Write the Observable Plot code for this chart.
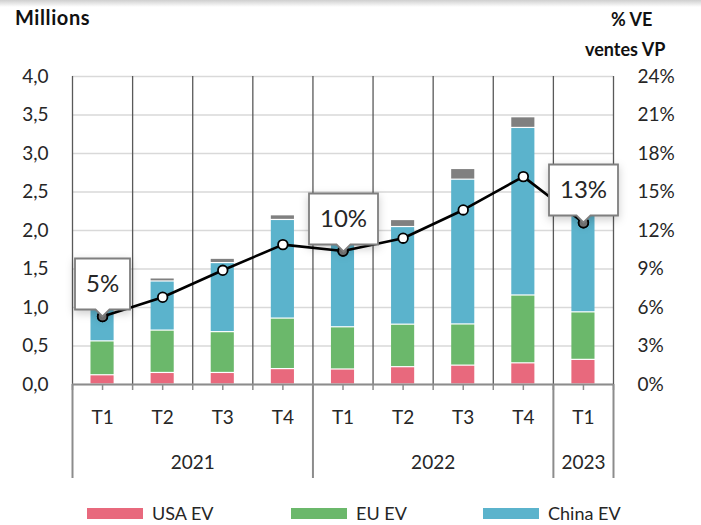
<!DOCTYPE html>
<html><head><meta charset="utf-8">
<script src="https://cdn.jsdelivr.net/npm/d3@7"></script>
<script src="https://cdn.jsdelivr.net/npm/@observablehq/plot@0.6"></script>
<style>
body{margin:0;background:#fff;font-family:Lato,"Open Sans",sans-serif;}
#wrap{position:relative;width:701px;height:525px;overflow:hidden;background:#fff}
.shade{position:absolute;left:0;top:0;width:701px;height:7px;background:linear-gradient(#cfcfcf,#fff)}
.t{position:absolute;font-weight:bold;font-size:18px;color:#111;white-space:nowrap}
#legend{position:absolute;left:0;top:500px;width:701px;height:25px}
.item{position:absolute;top:2px;display:flex;align-items:center;font-size:18px;color:#262626}
.sw{width:56px;height:11px;margin-right:9px}
#chart{position:absolute;left:0;top:0}
</style></head>
<body><div id="wrap">
<div id="chart"></div>
<div class="shade"></div>
<div class="t" style="left:15px;top:5px;font-size:20px;letter-spacing:0.6px">Millions</div>
<div class="t" style="left:611px;top:8px">% VE</div>
<div class="t" style="left:585px;top:38px">ventes VP</div>
<div id="legend"></div>
</div>
<script>
// ---- data ----
const quarters = ["T1","T2","T3","T4","T1","T2","T3","T4","T1"];
const years = ["2021","2022","2023"];
const yearSpans = [4,4,1];
const seriesNames = ["USA EV","EU EV","China EV","Autres"];
const usaEV   = [0.12, 0.15, 0.15, 0.20, 0.195, 0.225, 0.245, 0.275, 0.32];
const euEV    = [0.44, 0.55, 0.53, 0.656, 0.548, 0.552, 0.535, 0.881, 0.617];
const chinaEV = [0.50, 0.638, 0.897, 1.281, 1.207, 1.268, 1.88, 2.176, 1.382];
const otherEV = [0.03, 0.04, 0.056, 0.061, 0.05, 0.091, 0.139, 0.139, 0.06];
const pctShare = [5.3, 6.8, 8.9, 10.9, 10.4, 11.4, 13.6, 16.2, 12.6];
const calloutLabels = ["5%", null, null, null, "10%", null, null, null, "13%"];
const leftTicks = [0, 0.5, 1, 1.5, 2, 2.5, 3, 3.5, 4];
const rightTicks = [0, 3, 6, 9, 12, 15, 18, 21, 24];
const legendNames = ["USA EV","EU EV","China EV"];
const colors = ["#E8697D","#6BB86B","#5BB3CC","#808080"];

// ---- derived tables ----
const ratio = 4 / 24;
const seriesVals = [usaEV, euEV, chinaEV, otherEV];
const rows = [];
quarters.forEach((q, i) => {
  let acc = 0;
  seriesVals.forEach((arr, s) => {
    rows.push({i, series: seriesNames[s], y1: acc, y2: acc + arr[i]});
    acc += arr[i];
  });
});
const points = pctShare.map((p, i) => ({i, p, label: calloutLabels[i]}));
const centers = quarters.map((q, i) => i + 0.5);
const bounds = d3.range(quarters.length + 1);
const yearBounds = [0];
yearSpans.forEach(s => yearBounds.push(yearBounds[yearBounds.length - 1] + s));
const yearCenters = years.map((y, k) => (yearBounds[k] + yearBounds[k + 1]) / 2);

const chart = Plot.plot({
  width: 701, height: 500,
  marginTop: 76, marginBottom: 116, marginLeft: 72, marginRight: 88,
  x: {domain: [0, quarters.length]},
  y: {domain: [0, 4]},
  color: {domain: seriesNames, range: colors},
  style: {fontFamily: "Lato, 'Open Sans', sans-serif", fontSize: "19px", color: "#262626", background: "white"},
  marks: [
    Plot.ruleY(leftTicks, {stroke: "#d9d9d9", strokeWidth: 1.3}),
    Plot.ruleX(bounds, {stroke: "#595959", strokeWidth: 1.3}),
    Plot.rect(rows, {x1: d => d.i, x2: d => d.i + 1, y1: "y1", y2: "y2", fill: "series",
      insetLeft: 18.5, insetRight: 18.5, insetTop: 0.6, insetBottom: 0.6}),
    Plot.ruleY([0], {stroke: "#8c8c8c", strokeWidth: 2}),
    Plot.axisX(centers.concat(bounds), {tickSize: 6, stroke: "#8c8c8c", strokeWidth: 1.5, fill: "none", label: null}),
    Plot.axisX(yearBounds, {tickSize: 94, stroke: "#8c8c8c", strokeWidth: 2, fill: "none", label: null}),
    Plot.axisX(centers, {tickSize: 0, tickPadding: 26, fontSize: 19, tickFormat: d => quarters[Math.floor(d)], label: null}),
    Plot.axisX(yearCenters, {tickSize: 0, tickPadding: 71, fontSize: 19, tickFormat: d => years[yearCenters.indexOf(d)], label: null}),
    Plot.axisY(leftTicks, {anchor: "left", tickSize: 0, tickPadding: 24, fontSize: 19, tickFormat: d => d.toFixed(1).replace(".", ","), label: null}),
    Plot.axisY(rightTicks.map(t => t * ratio), {anchor: "right", tickSize: 0, tickPadding: 24, fontSize: 19, tickFormat: d => Math.round(d / ratio) + "%", label: null}),
    Plot.line(points, {x: d => d.i + 0.5, y: d => d.p * ratio, stroke: "black", strokeWidth: 2.6}),
    Plot.dot(points, {x: d => d.i + 0.5, y: d => d.p * ratio, r: 4.8, fill: "white", stroke: "black", strokeWidth: 1.8}),
    Plot.dot(points, {filter: d => d.label, x: d => d.i + 0.5, y: d => d.p * ratio, r: 4.8, fill: "#7a7a7a", stroke: "black", strokeWidth: 1.8}),
    Plot.tip(points, {filter: d => d.label, x: d => d.i + 0.5, y: d => d.p * ratio, title: "label",
      anchor: "bottom", fontSize: 24, lineHeight: 1, fill: "white", stroke: "#7f7f7f", strokeWidth: 1.8,
      textPadding: 11, pointerSize: 14})
  ]
});
document.getElementById("chart").appendChild(chart);

// legend
const legend = document.getElementById("legend");
const legendLeft = [87, 291, 483];
legendNames.forEach((n, k) => {
  const it = document.createElement("div");
  it.className = "item";
  it.style.left = legendLeft[k] + "px";
  it.innerHTML = `<span class="sw" style="background:${colors[k]}"></span><span>${n}</span>`;
  legend.appendChild(it);
});
</script>
</body></html>
